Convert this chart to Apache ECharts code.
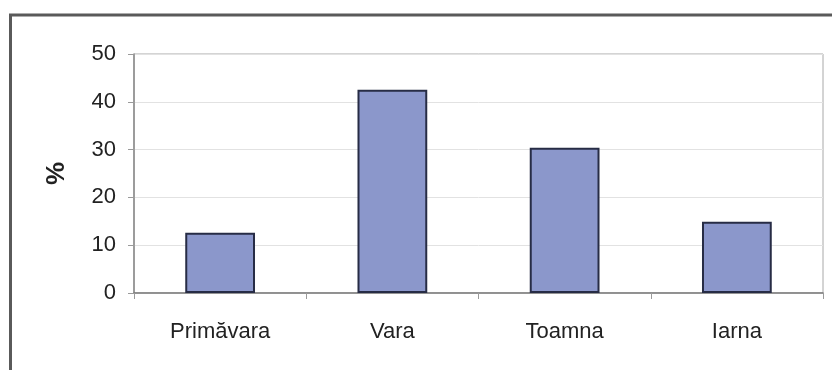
<!DOCTYPE html>
<html>
<head>
<meta charset="utf-8">
<script src="https://cdn.jsdelivr.net/npm/echarts@6/dist/echarts.min.js"></script>
<style>
  html, body { margin: 0; padding: 0; background: #fff; }
  #chart { width: 832px; height: 370px; }
</style>
</head>
<body>
<div id="chart"></div>
<script>
// anotimpuri si procente
var seasons = ['Primăvara', 'Vara', 'Toamna', 'Iarna'];
var percents = [12.6, 42.5, 30.4, 14.9];
var yTicks = [0, 10, 20, 30, 40, 50];

var myChart = echarts.init(document.getElementById('chart'));
var option = {
    backgroundColor: '#fff',
    animation: false,
    textStyle: { fontFamily: 'Liberation Sans, Arial, sans-serif' },
    // rama exterioara
    graphic: [{
        type: 'rect',
        shape: { x: 10.5, y: 15, width: 840, height: 400 },
        style: { fill: 'none', stroke: '#5a5a5a', lineWidth: 3 },
        silent: true
    }],
    grid: {
        left: 134, right: 9, top: 54, bottom: 77,
        show: true,
        borderColor: '#a8a8a8',
        borderWidth: 1
    },
    xAxis: {
        type: 'category',
        data: seasons,
        axisLine: { lineStyle: { color: '#7a7a7a', width: 1.5 } },
        axisTick: { show: true, length: 6, lineStyle: { color: '#9a9a9a' } },
        axisLabel: { fontSize: 22, color: '#222', margin: 28 }
    },
    yAxis: {
        type: 'value',
        min: yTicks[0],
        max: yTicks[yTicks.length - 1],
        interval: 10,
        name: '%',
        nameLocation: 'middle',
        nameGap: 64,
        nameRotate: 90,
        nameTextStyle: { fontSize: 26, fontWeight: 'bold', color: '#222' },
        axisLine: { show: true, lineStyle: { color: '#8a8a8a', width: 1.5 } },
        axisTick: { show: true, length: 6, lineStyle: { color: '#9a9a9a' } },
        axisLabel: { fontSize: 22, color: '#222', margin: 18 },
        splitLine: { lineStyle: { color: '#e2e2e2', width: 1 } }
    },
    series: [{
        type: 'bar',
        data: percents,
        barWidth: '40.5%',
        itemStyle: {
            color: '#8b97cb',
            borderColor: '#272c45',
            borderWidth: 2
        }
    }]
};
myChart.setOption(option);
</script>
</body>
</html>
